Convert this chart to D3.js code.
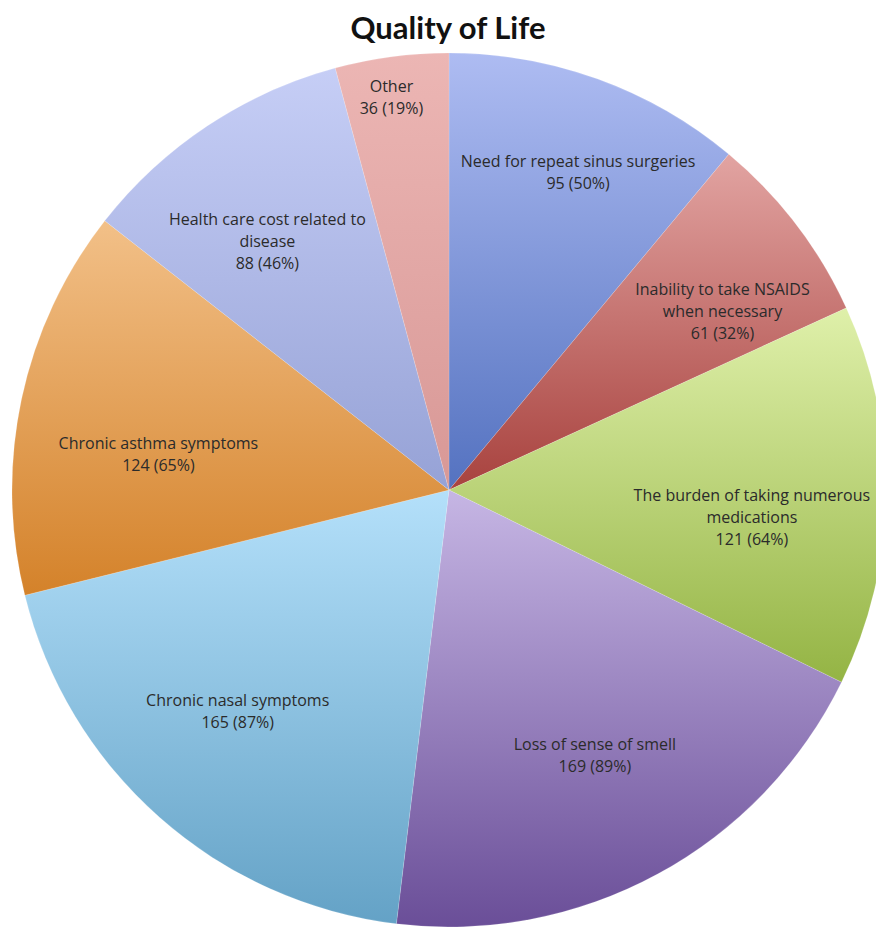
<!DOCTYPE html>
<html>
<head>
<meta charset="utf-8">
<script src="https://cdn.jsdelivr.net/npm/d3@7"></script>
<style>
  body { margin: 0; background: #fff; }
  svg { display: block; }
  .title { font-family: Lato, "Open Sans", sans-serif; font-weight: 700; font-size: 31px; fill: #111; }
  .slice-label { font-family: "Open Sans", Lato, sans-serif; font-size: 16px; fill: #2b2b2b; }
</style>
</head>
<body>
<div id="chart"></div>
<script>
// data
const categories = [
  'Need for repeat sinus surgeries',
  'Inability to take NSAIDS when necessary',
  'The burden of taking numerous medications',
  'Loss of sense of smell',
  'Chronic nasal symptoms',
  'Chronic asthma symptoms',
  'Health care cost related to disease',
  'Other'
];
const counts = [95, 61, 121, 169, 165, 124, 88, 36];
const percents = ['50%', '32%', '64%', '89%', '87%', '65%', '46%', '19%'];
// how each label wraps in the original
const labelLines = [
  ['Need for repeat sinus surgeries'],
  ['Inability to take NSAIDS', 'when necessary'],
  ['The burden of taking numerous', 'medications'],
  ['Loss of sense of smell'],
  ['Chronic nasal symptoms'],
  ['Chronic asthma symptoms'],
  ['Health care cost related to', 'disease'],
  ['Other']
];

// slice colours: light top / dark bottom
const colorTop = ['#aebcf2', '#e2a4a2', '#dff0aa', '#c6b6e4', '#b4e0fa', '#f2c088', '#c6cef6', '#ecb6b4'];
const colorBottom = ['#5472c0', '#a8423e', '#94b444', '#6a4e98', '#64a2c6', '#d4822a', '#96a2d6', '#d89896'];

// label placement (radius fraction, angle shift in degrees), Excel "best fit" style
const labelRadius = [0.785, 0.748, 0.696, 0.693, 0.700, 0.670, 0.705, 0.908];
const labelShift = [2.2, 4.2, 4.5, -0.3, 2.2, -5, -2.6, -0.8];

const width = 876, height = 927;
const cx = 449, cy = 490, R = 437;

const data = categories.map((c, i) => ({
  name: c, value: counts[i], pct: percents[i], lines: labelLines[i], i: i
}));

const svg = d3.select('#chart')
  .append('svg')
  .attr('width', width)
  .attr('height', height);

const defs = svg.append('defs');
data.forEach((d, i) => {
  const g = defs.append('linearGradient')
    .attr('id', 'grad' + i)
    .attr('x1', 0).attr('y1', 0)
    .attr('x2', 0).attr('y2', 1);
  g.append('stop').attr('offset', '0%').attr('stop-color', colorTop[i]);
  g.append('stop').attr('offset', '100%').attr('stop-color', colorBottom[i]);
});

const pie = d3.pie()
  .value(d => d.value)
  .sort(null);

const arc = d3.arc()
  .innerRadius(0)
  .outerRadius(R);

const arcs = pie(data);

const g = svg.append('g')
  .attr('transform', `translate(${cx},${cy})`);

g.selectAll('path.slice')
  .data(arcs)
  .enter()
  .append('path')
  .attr('class', 'slice')
  .attr('d', arc)
  .attr('fill', (d, i) => `url(#grad${i})`)
  .attr('stroke', 'rgba(255,255,255,0.25)')
  .attr('stroke-width', 0.6);

const lineH = 22;
const labels = g.selectAll('text.slice-label')
  .data(arcs)
  .enter()
  .append('text')
  .attr('class', 'slice-label')
  .attr('text-anchor', 'middle')
  .attr('transform', (d, i) => {
    const a = (d.startAngle + d.endAngle) / 2 + labelShift[i] * Math.PI / 180;
    const r = R * labelRadius[i];
    return `translate(${r * Math.sin(a)},${-r * Math.cos(a)})`;
  });

labels.each(function(d) {
  const t = d3.select(this);
  const lines = d.data.lines.concat([`${d.data.value} (${d.data.pct})`]);
  const top = -(lines.length - 1) * lineH / 2;
  lines.forEach((l, k) => {
    t.append('tspan')
      .attr('x', 0)
      .attr('y', top + k * lineH)
      .attr('dy', '0.35em')
      .text(l);
  });
});

svg.append('text')
  .attr('class', 'title')
  .attr('x', 448)
  .attr('y', 39)
  .attr('text-anchor', 'middle')
  .text('Quality of Life');
</script>
</body>
</html>
